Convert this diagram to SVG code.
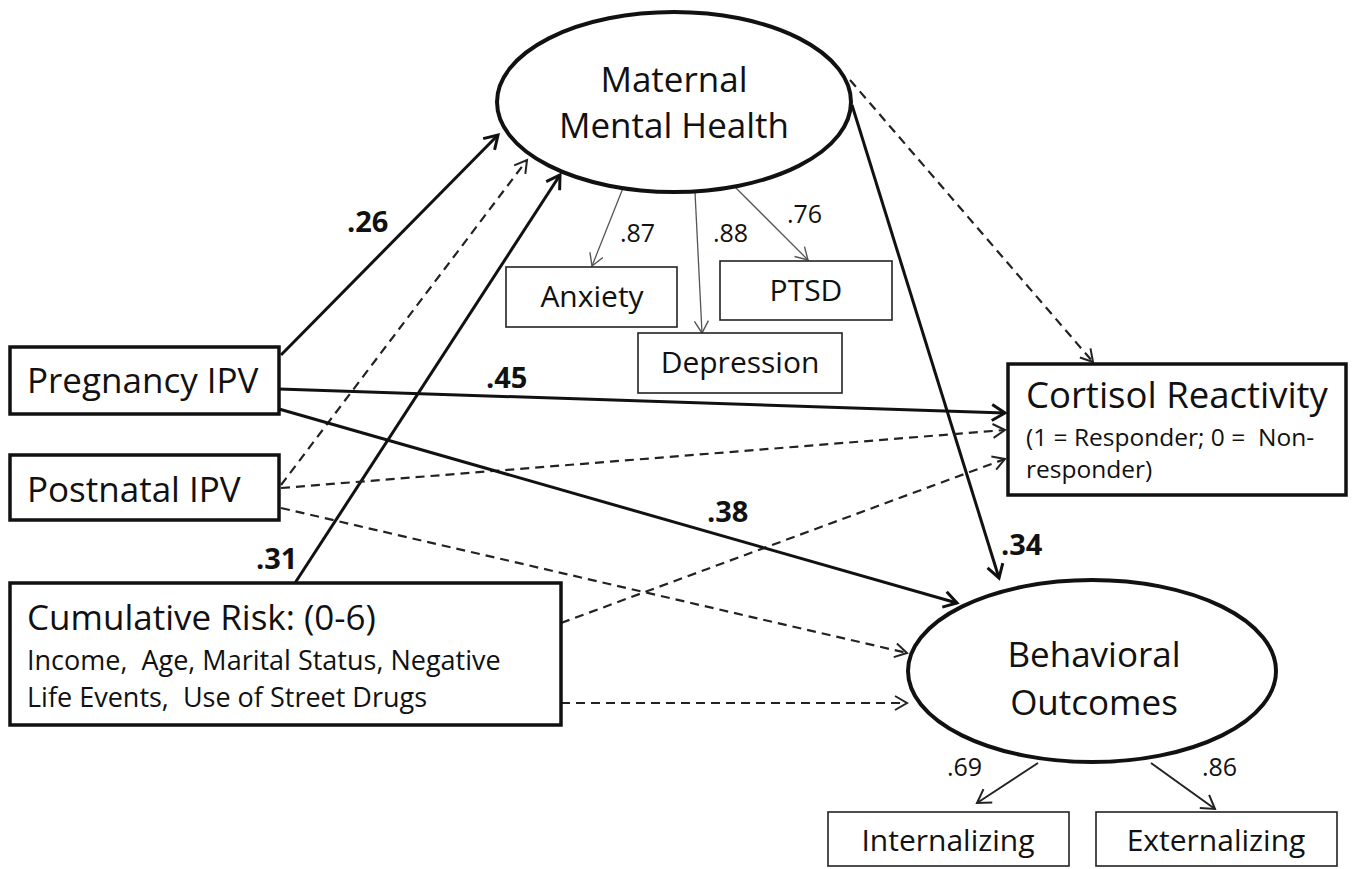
<svg xmlns="http://www.w3.org/2000/svg" width="1356" height="869" viewBox="0 0 1356 869">
<style>
  .t { font-family: "Open Sans", "Liberation Sans", sans-serif; fill: #111; }
  .big { font-size: 35px; }
  .sub { font-size: 27px; }
  .ind { font-size: 30px; }
  .num { font-size: 25px; }
  .bold { font-size: 29px; font-weight: bold; }
  .box { fill: #fff; stroke: #111; stroke-width: 3.5; }
  .ibox { fill: #fff; stroke: #222; stroke-width: 1.6; }
  .ell { fill: #fff; stroke: #111; stroke-width: 4; }
  .solid { fill: none; stroke: #111; stroke-width: 3; marker-end: url(#aThick); }
  .dash { fill: none; stroke: #222; stroke-width: 2.2; stroke-dasharray: 9 6; marker-end: url(#aDash); }
  .thin { fill: none; stroke: #555; stroke-width: 1.3; marker-end: url(#aThin); }
  .mid { fill: none; stroke: #222; stroke-width: 2; marker-end: url(#aMid); }
</style>
<defs>
  <marker id="aThick" markerUnits="userSpaceOnUse" markerWidth="24" markerHeight="24" viewBox="-16 -12 20 24" refX="0" refY="0" orient="auto">
    <path d="M-13,-8 L0,0 L-13,8" fill="none" stroke="#111" stroke-width="3"/>
  </marker>
  <marker id="aDash" markerUnits="userSpaceOnUse" markerWidth="24" markerHeight="24" viewBox="-16 -12 20 24" refX="0" refY="0" orient="auto">
    <path d="M-12,-7 L0,0 L-12,7" fill="none" stroke="#222" stroke-width="2"/>
  </marker>
  <marker id="aThin" markerUnits="userSpaceOnUse" markerWidth="24" markerHeight="24" viewBox="-16 -12 20 24" refX="0" refY="0" orient="auto">
    <path d="M-12,-7 L0,0 L-12,7" fill="none" stroke="#555" stroke-width="1.4"/>
  </marker>
  <marker id="aMid" markerUnits="userSpaceOnUse" markerWidth="24" markerHeight="24" viewBox="-16 -12 20 24" refX="0" refY="0" orient="auto">
    <path d="M-13,-8 L0,0 L-13,8" fill="none" stroke="#222" stroke-width="2"/>
  </marker>
</defs>
<rect width="1356" height="869" fill="#fff"/>

<g id="connectors">
  <!-- to Maternal Mental Health -->
  <line class="solid" x1="281" y1="355" x2="498" y2="135"/>
  <line class="dash" x1="281" y1="485" x2="527" y2="160"/>
  <line class="solid" x1="295" y1="583" x2="560" y2="175"/>
  <!-- MMH indicators -->
  <line class="thin" x1="623" y1="188" x2="592" y2="266"/>
  <line class="thin" x1="695" y1="192" x2="702" y2="333"/>
  <line class="thin" x1="734" y1="186" x2="808" y2="260"/>
  <!-- MMH outgoing -->
  <line class="solid" x1="852" y1="105" x2="999" y2="578"/>
  <line class="dash" x1="850" y1="80" x2="1093" y2="362"/>
  <!-- to Cortisol -->
  <line class="solid" x1="279" y1="389" x2="1005" y2="413"/>
  <line class="dash" x1="281" y1="488" x2="1005" y2="430"/>
  <line class="dash" x1="561" y1="623" x2="1005" y2="459"/>
  <!-- to Behavioral -->
  <line class="solid" x1="279" y1="409" x2="957" y2="603"/>
  <line class="dash" x1="281" y1="508" x2="907" y2="653"/>
  <line class="dash" x1="561" y1="703" x2="907" y2="703"/>
  <!-- BO indicators -->
  <line class="mid" x1="1038" y1="763" x2="977" y2="803"/>
  <line class="mid" x1="1151" y1="763" x2="1215" y2="809"/>
  <!-- coefficient labels -->
  <text class="t bold" x="347" y="232">.26</text>
  <text class="t bold" x="486" y="388">.45</text>
  <text class="t bold" x="707" y="522">.38</text>
  <text class="t bold" x="256" y="569">.31</text>
  <text class="t bold" x="1001" y="555">.34</text>
  <text class="t num" x="620" y="242">.87</text>
  <text class="t num" x="713" y="242">.88</text>
  <text class="t num" x="787" y="223">.76</text>
  <text class="t num" x="947" y="776">.69</text>
  <text class="t num" x="1202" y="776">.86</text>
</g>

<g id="mmh">
  <ellipse class="ell" cx="674" cy="102" rx="177" ry="90"/>
  <text class="t big" x="674" y="92" text-anchor="middle">Maternal</text>
  <text class="t big" x="674" y="138" text-anchor="middle">Mental Health</text>
</g>

<g id="anxiety">
  <rect class="ibox" x="506" y="267" width="171" height="60"/>
  <text class="t ind" x="592" y="307" text-anchor="middle">Anxiety</text>
</g>
<g id="ptsd">
  <rect class="ibox" x="720" y="261" width="172" height="59"/>
  <text class="t ind" x="806" y="301" text-anchor="middle">PTSD</text>
</g>
<g id="depression">
  <rect class="ibox" x="638" y="333" width="204" height="60"/>
  <text class="t ind" x="740" y="373" text-anchor="middle">Depression</text>
</g>

<g id="pregnancy">
  <rect class="box" x="10" y="347" width="269" height="67"/>
  <text class="t big" x="27" y="393">Pregnancy IPV</text>
</g>
<g id="postnatal">
  <rect class="box" x="10" y="455" width="269" height="65"/>
  <text class="t big" x="27" y="502">Postnatal IPV</text>
</g>
<g id="cumulative">
  <rect class="box" x="10" y="583" width="551" height="142"/>
  <text class="t big" x="27" y="630">Cumulative Risk: (0-6)</text>
  <text class="t sub" x="27" y="670" xml:space="preserve">Income,  Age, Marital Status, Negative</text>
  <text class="t sub" x="27" y="707" xml:space="preserve">Life Events,  Use of Street Drugs</text>
</g>

<g id="cortisol">
  <rect class="box" x="1008" y="364" width="338" height="131"/>
  <text class="t" style="font-size:36.5px" x="1026" y="408">Cortisol Reactivity</text>
  <text class="t" style="font-size:24.5px" x="1026" y="446" xml:space="preserve">(1 = Responder; 0 =  Non-</text>
  <text class="t" style="font-size:24.5px" x="1026" y="478">responder)</text>
</g>

<g id="behavioral">
  <ellipse class="ell" cx="1092" cy="671" rx="184" ry="91"/>
  <text class="t big" x="1094" y="667" text-anchor="middle">Behavioral</text>
  <text class="t big" x="1094" y="715" text-anchor="middle">Outcomes</text>
</g>

<g id="internalizing">
  <rect class="ibox" x="828" y="812" width="241" height="54"/>
  <text class="t ind" x="948" y="851" text-anchor="middle">Internalizing</text>
</g>
<g id="externalizing">
  <rect class="ibox" x="1096" y="812" width="241" height="54"/>
  <text class="t ind" x="1216" y="851" text-anchor="middle">Externalizing</text>
</g>
</svg>
